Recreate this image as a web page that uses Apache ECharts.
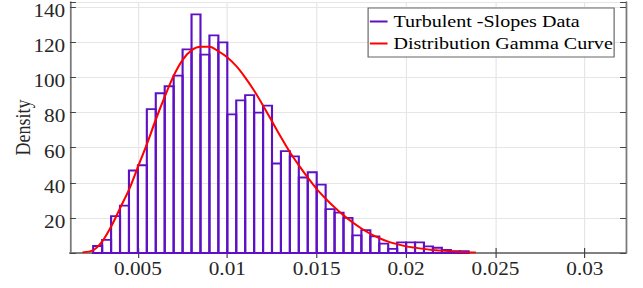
<!DOCTYPE html>
<html>
<head>
<meta charset="utf-8">
<script src="https://cdn.jsdelivr.net/npm/echarts@6/dist/echarts.min.js"></script>
<style>
  html, body { margin: 0; padding: 0; background: #fff; overflow: hidden; }
  /* the source picture is stretched sideways, so the chart is drawn narrow and scaled */
  #chart { width: 545px; height: 288px; transform: scaleX(1.1798); transform-origin: 0 0; }
</style>
</head>
<body>
<div id="chart"></div>
<script>
  // histogram bins (edges) and densities
  const binEdges = [
    0.0025, 0.003, 0.0035, 0.004, 0.0045, 0.005, 0.0055, 0.006, 0.0065, 0.007,
    0.0075, 0.008, 0.0085, 0.009, 0.0095, 0.01, 0.0105, 0.011, 0.0115, 0.012,
    0.0125, 0.013, 0.0135, 0.014, 0.0145, 0.015, 0.0155, 0.016, 0.0165, 0.017,
    0.0175, 0.018, 0.0185, 0.019, 0.0195, 0.02, 0.0205, 0.021, 0.0215, 0.022,
    0.0225, 0.023, 0.0235
  ];
  const densities = [
    4, 7.5, 21, 27, 47, 50, 82, 91, 95, 101,
    116, 136, 113, 124, 120, 79, 87, 90, 80, 84,
    51, 58, 55, 43, 46, 39, 25, 23, 20, 10,
    13, 9.5, 5.3, 2.4, 6, 6, 6, 3.8, 3, 1.7,
    1.1, 1.1
  ];

  // fitted gamma curve
  const curveX = [
    0.0019, 0.0025, 0.003, 0.0035, 0.004, 0.0045, 0.005, 0.0055, 0.006, 0.0065,
    0.007, 0.0075, 0.008, 0.0085, 0.009, 0.0095, 0.01, 0.0105, 0.011, 0.0115,
    0.012, 0.0125, 0.013, 0.0135, 0.014, 0.0145, 0.015, 0.0155, 0.016, 0.0165,
    0.017, 0.0175, 0.018, 0.0185, 0.019, 0.0195, 0.02, 0.0205, 0.021, 0.0215,
    0.022, 0.0225, 0.023, 0.0235, 0.0239
  ];
  const curveY = [
    0.3, 1.5, 6.5, 15, 25.5, 36, 49, 62, 76, 89,
    101, 110, 115.5, 117.5, 117.5, 115, 111.5, 106.5, 100, 92.5,
    84, 75, 66, 57.5, 50, 43, 36.5, 31, 26, 21.5,
    17.5, 14, 11, 8.5, 6.5, 5, 3.8, 3, 2.3, 1.7,
    1.3, 0.9, 0.6, 0.4, 0.3
  ];

  const xTicks = [0.005, 0.01, 0.015, 0.02, 0.025, 0.03];
  const seriesNames = ['Turbulent -Slopes Data', 'Distribution Gamma Curve'];

  const purple = '#5e10c4';
  const red = '#ff0000';
  const frame = '#7a7a7a';
  const font = 'Liberation Serif';

  const histData = densities.map((d, i) => [binEdges[i], binEdges[i + 1], d]);
  const curveData = curveX.map((x, i) => [x, curveY[i]]);

  const myChart = echarts.init(document.getElementById('chart'), null, { renderer: 'svg' });

  const option = {
    animation: false,
    grid: { left: 59.3, right: 14.4, top: 2, bottom: 35, outerBoundsMode: 'none' },
    legend: {
      orient: 'vertical',
      left: 312,
      top: 8,
      padding: [3.5, 1, 3.5, 1.5],
      itemGap: 2,
      itemWidth: 15,
      itemHeight: 2,
      borderColor: '#666',
      borderWidth: 1,
      backgroundColor: '#fff',
      textStyle: { fontFamily: font, fontSize: 17, color: '#000', lineHeight: 20 },
      data: [
        { name: seriesNames[0], icon: 'rect', itemStyle: { color: purple } },
        { name: seriesNames[1], icon: 'rect', itemStyle: { color: red } },
      ],
    },
    xAxis: [
      {
        type: 'value',
        min: 0.0012,
        max: 0.0323,
        splitNumber: 5,
        axisLine: { show: true, lineStyle: { color: frame, width: 1.5 } },
        axisTick: { show: true, inside: true, length: 5, customValues: xTicks, lineStyle: { color: '#444' } },
        axisLabel: {
          customValues: xTicks,
          margin: 7,
          fontFamily: font,
          fontSize: 18,
          color: '#262626',
          formatter: (v) => String(+v.toFixed(3)),
        },
        splitLine: { show: true, lineStyle: { color: '#e6e6e6', width: 1 } },
      },
      {
        type: 'value',
        position: 'top',
        min: 0.0012,
        max: 0.0323,
        axisLine: { show: true, lineStyle: { color: frame, width: 1.5 } },
        axisTick: { show: true, inside: true, length: 5, customValues: xTicks, lineStyle: { color: '#444' } },
        axisLabel: { show: false },
        splitLine: { show: false },
      },
    ],
    yAxis: [
      {
        type: 'value',
        min: 0,
        max: 143,
        interval: 20,
        name: 'Density',
        nameLocation: 'middle',
        nameGap: 31,
        nameMoveOverlap: false,
        nameTextStyle: { fontFamily: font, fontSize: 18, color: '#262626' },
        axisLine: { show: true, lineStyle: { color: frame, width: 1.5 } },
        axisTick: { show: true, inside: true, length: 5, lineStyle: { color: '#444' } },
        axisLabel: {
          margin: 4,
          fontFamily: font,
          fontSize: 18,
          verticalAlign: 'top',
          lineHeight: 7,
          color: '#262626',
          formatter: (v) => (v > 0 && v % 20 === 0 ? String(v) : ''),
        },
        splitLine: { show: true, lineStyle: { color: '#e6e6e6', width: 1 } },
      },
      {
        type: 'value',
        position: 'right',
        min: 0,
        max: 143,
        interval: 20,
        axisLine: { show: true, lineStyle: { color: frame, width: 1.5 } },
        axisTick: { show: true, inside: true, length: 5, lineStyle: { color: '#444' } },
        axisLabel: { show: false },
        splitLine: { show: false },
      },
    ],
    series: [
      {
        name: seriesNames[0],
        type: 'custom',
        xAxisIndex: 0,
        yAxisIndex: 0,
        itemStyle: { color: purple },
        encode: { x: [0, 1], y: 2 },
        data: histData,
        renderItem: function (params, api) {
          const p0 = api.coord([api.value(0), api.value(2)]);
          const p1 = api.coord([api.value(1), 0]);
          return {
            type: 'rect',
            shape: { x: p0[0], y: p0[1], width: p1[0] - p0[0], height: p1[1] - p0[1] },
            style: { fill: 'none', stroke: purple, lineWidth: 1.8 },
          };
        },
        z: 2,
      },
      {
        name: seriesNames[1],
        type: 'line',
        xAxisIndex: 0,
        yAxisIndex: 0,
        data: curveData,
        smooth: 0.3,
        showSymbol: false,
        symbol: 'none',
        itemStyle: { color: red },
        lineStyle: { color: red, width: 1.8 },
        z: 3,
      },
    ],
  };

  option && myChart.setOption(option);
</script>
</body>
</html>
